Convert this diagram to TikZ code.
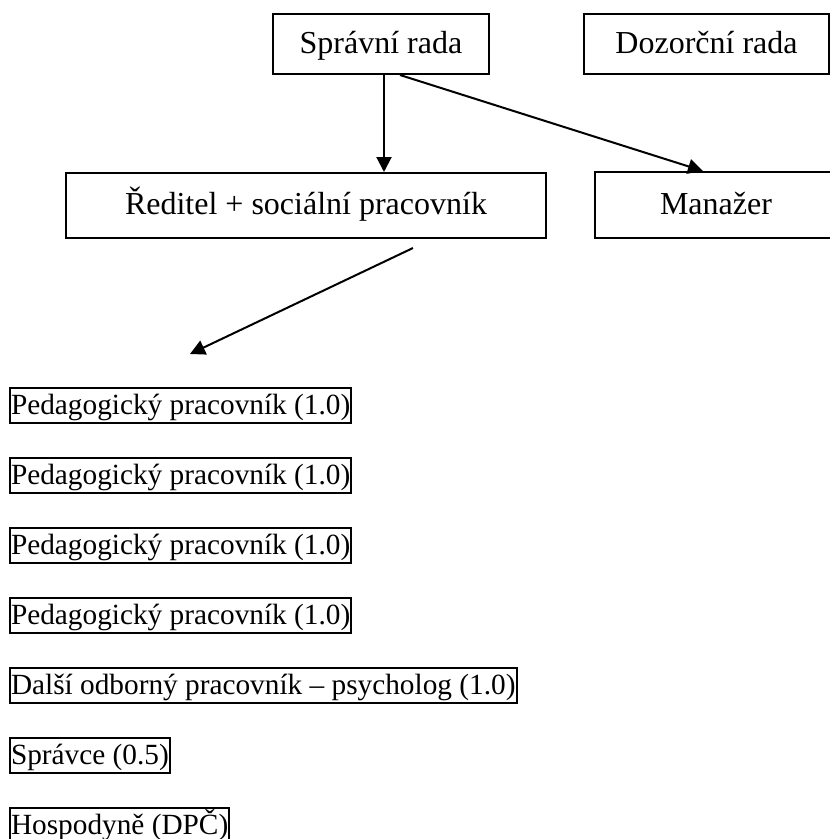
\documentclass[tikz,border=0pt]{standalone}
\usepackage{fontspec}
\setmainfont{Liberation Serif}
\usetikzlibrary{arrows.meta}
\tikzset{
  topbox/.style={draw, line width=2pt, inner sep=0pt, text height=25pt, text depth=7pt,
    font=\fontsize{32}{36}\selectfont},
  lowbox/.style={draw, line width=2pt, inner xsep=1pt, inner ysep=0pt, text height=26pt, text depth=9pt,
    anchor=north west, font=\fontsize{29.3}{33}\selectfont},
  arr/.style={line width=2pt, -{Triangle[width=15pt,length=15pt]}}
}
\begin{document}
\begin{tikzpicture}[x=1pt,y=-1pt]
\useasboundingbox (0,0) rectangle (830,839);
\clip (0,0) rectangle (830,839);
\node[topbox, minimum width=216pt, minimum height=60pt] (sr) at (381,44) {Správní rada};
\node[topbox, minimum width=245pt, minimum height=60pt] (dr) at (706.5,44) {Dozorční rada};
\node[topbox, minimum width=480pt, minimum height=65pt] (red) at (306,205.5) {Ředitel + sociální pracovník};
\node[topbox, minimum width=242pt, minimum height=66pt] (man) at (716,205) {Manažer};

\node[lowbox] (p1) at (9,387) {Pedagogický pracovník (1.0)};
\node[lowbox] (p2) at (9,457) {Pedagogický pracovník (1.0)};
\node[lowbox] (p3) at (9,527) {Pedagogický pracovník (1.0)};
\node[lowbox] (p4) at (9,597) {Pedagogický pracovník (1.0)};
\node[lowbox] (dal) at (9,667) {Další odborný pracovník – psycholog (1.0)};
\node[lowbox] (spr) at (9,737) {Správce (0.5)};
\node[lowbox] (hos) at (9,807) {Hospodyně (DPČ)};

\draw[arr] ([xshift=3pt]sr.south) -- ([xshift=3pt]sr.south |- red.north);
\draw[arr] ([xshift=19pt]sr.south) -- ([xshift=-13pt]man.north);
\coordinate (a3s) at (413,248);
\coordinate (a3e) at (190,354);
\draw[arr] (a3s) -- (a3e);
\end{tikzpicture}
\end{document}
